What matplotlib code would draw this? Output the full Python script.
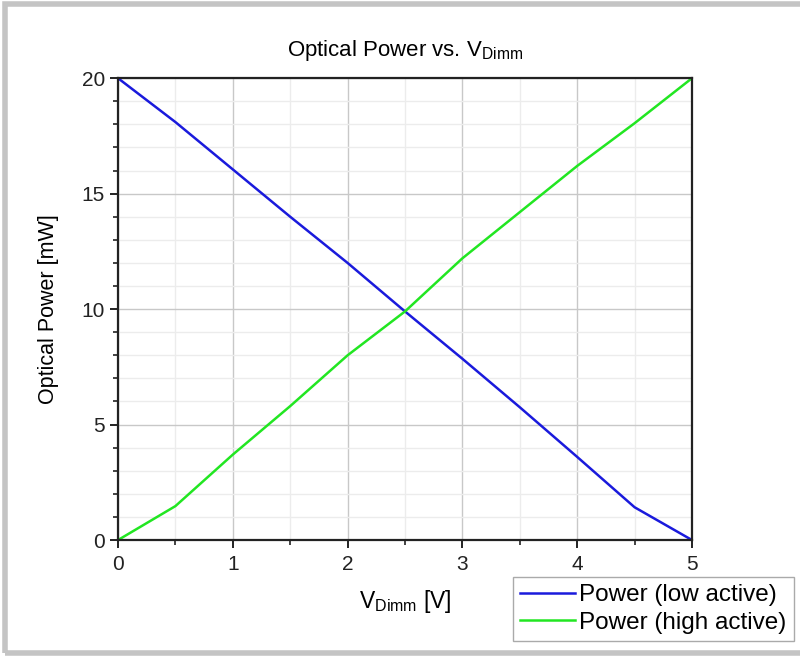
import numpy as np
import matplotlib
matplotlib.use("Agg")
import matplotlib.pyplot as plt
from matplotlib.ticker import MultipleLocator
from matplotlib.patches import Rectangle

plt.rcParams['font.family'] = ['Liberation Sans', 'DejaVu Sans']
plt.rcParams['mathtext.fontset'] = 'custom'
plt.rcParams['mathtext.rm'] = 'Liberation Sans'
plt.rcParams['mathtext.it'] = 'Liberation Sans'

# data
v_dimm = [0, 0.5, 1, 1.5, 2, 2.5, 3, 3.5, 4, 4.5, 5]
power_low = [20, 18.1, 16.05, 14.0, 12.0, 9.9, 7.85, 5.75, 3.6, 1.42, 0]
power_high = [0, 1.47, 3.7, 5.8, 8.0, 9.9, 12.2, 14.2, 16.2, 18.05, 20]

fig = plt.figure(figsize=(8.0, 6.57), dpi=100)
ax = fig.add_axes([0.1475, 0.178, 0.865 - 0.1475, 0.881 - 0.178])

ax.plot(v_dimm, power_low, color='#1a1adc', lw=1.8, label='Power (low active)')
ax.plot(v_dimm, power_high, color='#22e622', lw=1.8, label='Power (high active)')

ax.set_xlim(0, 5)
ax.set_ylim(0, 20)
ax.xaxis.set_major_locator(MultipleLocator(1))
ax.xaxis.set_minor_locator(MultipleLocator(0.5))
ax.yaxis.set_major_locator(MultipleLocator(5))
ax.yaxis.set_minor_locator(MultipleLocator(1))

ax.grid(which='major', color='#c8c8c8', lw=1)
ax.grid(which='minor', color='#ececec', lw=1)
ax.set_axisbelow(True)

for s in ax.spines.values():
    s.set_linewidth(1.6)
    s.set_color('#222222')

ax.tick_params(which='major', direction='out', length=6, width=1.4, labelsize=15, colors='#222222')
ax.tick_params(which='minor', direction='out', length=3.5, width=1.2, colors='#222222')
ax.tick_params(axis='x', which='major', pad=5)

ax.set_title(r'Optical Power vs. V$_{\mathrm{Dimm}}$', fontsize=16, pad=16)
ax.set_xlabel(r'V$_{\mathrm{Dimm}}$ [V]', fontsize=16.5, labelpad=10)
ax.set_ylabel('Optical Power [mW]', fontsize=15.5, labelpad=16)

leg = fig.legend(loc='upper right', bbox_to_anchor=(794 / 800, 1 - 577 / 657),
                 fontsize=17.5, fancybox=False, edgecolor='#aaaaaa', framealpha=1,
                 handlelength=2.25, handletextpad=0.2, borderpad=0.3, labelspacing=0.22,
                 borderaxespad=0)
leg.get_frame().set_linewidth(1.0)

# gray frame around the picture
fig.patches.append(Rectangle((5 / 800, 4 / 657), 1.2, 1 - 8 / 657,
                             transform=fig.transFigure, fill=False,
                             edgecolor='#c4c4c4', lw=4, zorder=-1))

fig.savefig('out.png', dpi=100)
